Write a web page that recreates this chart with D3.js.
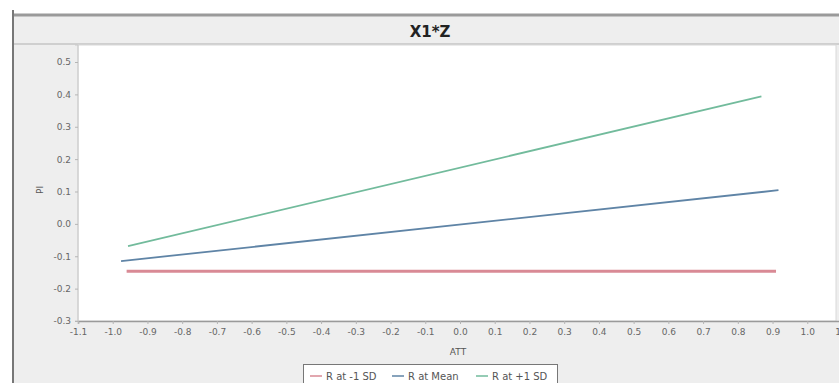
<!DOCTYPE html>
<html>
<head>
<meta charset="utf-8">
<script src="https://cdn.jsdelivr.net/npm/d3@7"></script>
<style>
  html, body { margin: 0; padding: 0; background: #ffffff; }
  svg { display: block; font-family: "DejaVu Sans", sans-serif; }
</style>
</head>
<body>
<svg id="chart" width="839" height="383"></svg>
<script>
// Simple-slope lines of PI on ATT at three levels of the moderator R
const seriesNames = ["R at -1 SD", "R at Mean", "R at +1 SD"];
const seriesColors = ["#d98a95", "#5f84a6", "#72bb9c"];
const lowSD  = [[-0.96, -0.146], [0.91, -0.146]];
const atMean = [[-0.976, -0.115], [0.917, 0.104]];
const highSD = [[-0.956, -0.069], [0.868, 0.394]];
const seriesData = [lowSD, atMean, highSD];

const xTicks = [-1.1, -1.0, -0.9, -0.8, -0.7, -0.6, -0.5, -0.4, -0.3, -0.2, -0.1,
                0.0, 0.1, 0.2, 0.3, 0.4, 0.5, 0.6, 0.7, 0.8, 0.9, 1.0, 1.1];
const yTicks = [-0.3, -0.2, -0.1, 0.0, 0.1, 0.2, 0.3, 0.4, 0.5];

const svg = d3.select("#chart");
const W = 839, H = 383;
const plot = { left: 78, top: 45, right: 836, bottom: 321 };

// panel background and frame
svg.append("rect").attr("x", 0).attr("y", 0).attr("width", W).attr("height", H).attr("fill", "#ffffff");
svg.append("rect").attr("x", 14).attr("y", 16).attr("width", W - 14).attr("height", H - 16).attr("fill", "#eeeeee");
svg.append("line").attr("x1", 14).attr("x2", W).attr("y1", 15).attr("y2", 15)
  .attr("stroke", "#9a9a9a").attr("stroke-width", 3);
svg.append("line").attr("x1", 13).attr("x2", 13).attr("y1", 10).attr("y2", H)
  .attr("stroke", "#777777").attr("stroke-width", 2);
svg.append("line").attr("x1", 14).attr("x2", W).attr("y1", 44).attr("y2", 44)
  .attr("stroke", "#b0b0b0").attr("stroke-width", 1);

// title
svg.append("text").attr("x", 430).attr("y", 37).attr("text-anchor", "middle")
  .attr("font-size", 15).attr("font-weight", "bold").attr("fill", "#222")
  .text("X1*Z");

// plotting area
svg.append("rect").attr("x", plot.left).attr("y", plot.top)
  .attr("width", plot.right - plot.left).attr("height", plot.bottom - plot.top)
  .attr("fill", "#ffffff").attr("stroke", "#d8d8d8");

const x = d3.scaleLinear().domain([-1.1, 1.1]).range([plot.left, 842]);
const y = d3.scaleLinear().domain([-0.3, 0.5]).range([plot.bottom, 62]);

// plain hyphen for negatives, one decimal
const fmt = d => d.toFixed(1);

const xAxis = svg.append("g").attr("transform", `translate(0,${plot.bottom})`)
  .call(d3.axisBottom(x).tickValues(xTicks).tickFormat(fmt).tickSize(3).tickPadding(5));
const yAxis = svg.append("g").attr("transform", `translate(${plot.left},0)`)
  .call(d3.axisLeft(y).tickValues(yTicks).tickFormat(fmt).tickSize(3).tickPadding(4));

[xAxis, yAxis].forEach(g => {
  g.select(".domain").attr("stroke", "#9a9a9a").attr("stroke-width", 1.5);
  g.selectAll(".tick line").attr("stroke", "#b5b5b5");
  g.selectAll(".tick text").attr("fill", "#666").attr("font-size", 9)
    .attr("font-family", "DejaVu Sans, sans-serif");
});
yAxis.select(".domain").attr("d", `M-3,${plot.top}H0V${plot.bottom}H-3`).attr("stroke", "#c8c8c8").attr("stroke-width", 1);

// axis titles
svg.append("text").attr("x", 458).attr("y", 355).attr("text-anchor", "middle")
  .attr("font-size", 9).attr("fill", "#555").text("ATT");
svg.append("text").attr("transform", "translate(43,190) rotate(-90)")
  .attr("text-anchor", "middle").attr("font-size", 9).attr("fill", "#555").text("PI");

// lines
const line = d3.line().x(d => x(d[0])).y(d => y(d[1]));
svg.append("clipPath").attr("id", "plotClip").append("rect")
  .attr("x", plot.left).attr("y", plot.top)
  .attr("width", plot.right - plot.left).attr("height", plot.bottom - plot.top);
const lines = svg.append("g").attr("clip-path", "url(#plotClip)");
seriesData.forEach((d, i) => {
  lines.append("path").datum(d).attr("d", line)
    .attr("fill", "none").attr("stroke", seriesColors[i])
    .attr("stroke-width", i === 0 ? 3 : 1.8).attr("stroke-linecap", "butt");
});

// legend
const legend = svg.append("g");
legend.append("rect").attr("x", 303.5).attr("y", 364.5).attr("width", 254).attr("height", 24)
  .attr("fill", "#ffffff").attr("stroke", "#777").attr("stroke-width", 1);
const legendX = [310, 392, 476];
seriesNames.forEach((name, i) => {
  const lx = legendX[i];
  legend.append("line").attr("x1", lx).attr("x2", lx + 12).attr("y1", 376).attr("y2", 376)
    .attr("stroke", seriesColors[i]).attr("stroke-width", 1.5);
  legend.append("text").attr("x", lx + 16).attr("y", 380).attr("font-size", 10)
    .attr("fill", "#555").text(name);
});
</script>
</body>
</html>
